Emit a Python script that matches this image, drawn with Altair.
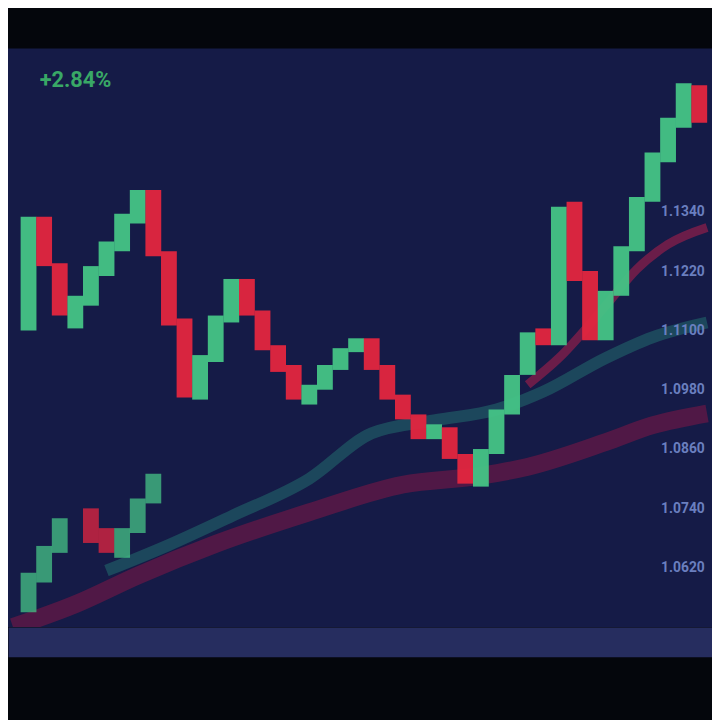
import altair as alt
import pandas as pd

# ---- main candle series (index, open, close) ----
main_idx = list(range(44))
main_open = [1.1100, 1.1330, 1.1236, 1.1104, 1.1150, 1.1210, 1.1260, 1.1316, 1.1384, 1.1260,
             1.1124, 1.0960, 1.1036, 1.1116, 1.1204, 1.1140, 1.1070, 1.1030, 1.0950, 1.0980,
             1.1020, 1.1056, 1.1084, 1.1030, 1.0970, 1.0930, 1.0880, 1.0904, 1.0850, 1.0784,
             1.0850, 1.0930, 1.1010, 1.1104, 1.1070, 1.1360, 1.1220, 1.1080, 1.1170, 1.1260,
             1.1360, 1.1440, 1.1510, 1.1596]
main_close = [1.1330, 1.1230, 1.1130, 1.1170, 1.1230, 1.1280, 1.1336, 1.1384, 1.1250, 1.1110,
              1.0964, 1.1050, 1.1130, 1.1204, 1.1130, 1.1060, 1.1016, 1.0960, 1.0990, 1.1030,
              1.1064, 1.1084, 1.1020, 1.0960, 1.0920, 1.0880, 1.0910, 1.0840, 1.0790, 1.0860,
              1.0940, 1.1010, 1.1096, 1.1070, 1.1350, 1.1200, 1.1080, 1.1180, 1.1270, 1.1370,
              1.1460, 1.1530, 1.1600, 1.1520]

# ---- lower candle series ----
low_idx = [0, 1, 2, 4, 5, 6, 7, 8]
low_open = [1.0530, 1.0590, 1.0650, 1.0740, 1.0700, 1.0640, 1.0690, 1.0750]
low_close = [1.0610, 1.0664, 1.0720, 1.0670, 1.0650, 1.0700, 1.0760, 1.0810]

# ---- moving averages ----
teal_idx = [5, 9, 13, 18, 22, 26, 30, 33, 37, 40, 43.5]
teal_val = [1.0614, 1.0666, 1.0724, 1.0800, 1.0892, 1.0918, 1.0940, 1.0976, 1.1044, 1.1086, 1.1116]
maroon_idx = [-1, 3, 7, 12, 18, 24, 29, 32, 37, 40, 43.5]
maroon_val = [1.0500, 1.0546, 1.0604, 1.0668, 1.0732, 1.0788, 1.0806, 1.0824, 1.0874, 1.0908, 1.0932]
pink_idx = [32, 34, 37, 39, 41, 43.5]
pink_val = [1.0990, 1.1044, 1.1150, 1.1224, 1.1274, 1.1308]

price_ticks = [1.062, 1.074, 1.086, 1.098, 1.110, 1.122, 1.134]

GREEN = "#45c486"
RED = "#e3263f"

main_df = pd.DataFrame({"i": main_idx, "open": main_open, "close": main_close})
low_df = pd.DataFrame({"i": low_idx, "open": low_open, "close": low_close})
teal_df = pd.DataFrame({"i": teal_idx, "v": teal_val})
maroon_df = pd.DataFrame({"i": maroon_idx, "v": maroon_val})
pink_df = pd.DataFrame({"i": pink_idx, "v": pink_val})

xs = alt.Scale(domain=[-1, 43.5], nice=False, zero=False)
ys = alt.Scale(domain=[1.05, 1.167], nice=False, zero=False)

x_axis = alt.Axis(labels=False, ticks=False, grid=False, title=None,
                  domainWidth=30, domainColor="#262d5f", offset=15)
y_axis = alt.Axis(orient="right", offset=-52, values=price_ticks, format=".4f",
                  labelColor="#6a7fbf", labelFontSize=14, labelFontWeight="bold",
                  labelFont="Roboto", labelAlign="left", labelPadding=0,
                  domain=False, ticks=False, grid=False, title=None, zindex=1)


def ma_line(df, color, w, op):
    return alt.Chart(df).mark_line(color=color, strokeWidth=w, opacity=op,
                                   interpolate="monotone", clip=True).encode(
        x=alt.X("i:Q", scale=xs, axis=x_axis),
        y=alt.Y("v:Q", scale=ys, axis=y_axis),
    )


def candles(df, size, op):
    return alt.Chart(df).mark_bar(size=size, opacity=op, clip=True).encode(
        x=alt.X("i:Q", scale=xs, axis=x_axis),
        y=alt.Y("open:Q", scale=ys, axis=y_axis),
        y2="close:Q",
        color=alt.condition("datum.close >= datum.open", alt.value(GREEN), alt.value(RED)),
    )


chart = alt.layer(
    ma_line(maroon_df, "#561846", 18, 0.9),
    ma_line(teal_df, "#1d4d5e", 12, 0.9),
    ma_line(pink_df, "#7a1d4a", 9, 0.85),
    candles(low_df, 16, 0.75),
    candles(main_df, 16, 0.95),
).properties(
    width=712,
    height=585,
    autosize=alt.AutoSizeParams(type="none"),
    padding={"left": 0, "top": 37, "right": 0, "bottom": 90},
    background="#04060c",
    title=alt.TitleParams("+2.84%", anchor="start", color="#39a866", fontSize=22,
                          fontWeight="bold", font="Roboto", dx=32, dy=48),
).configure_view(fill="#151b47", stroke=None)

chart.save("out.html", embed_options={"renderer": "svg", "actions": False})
